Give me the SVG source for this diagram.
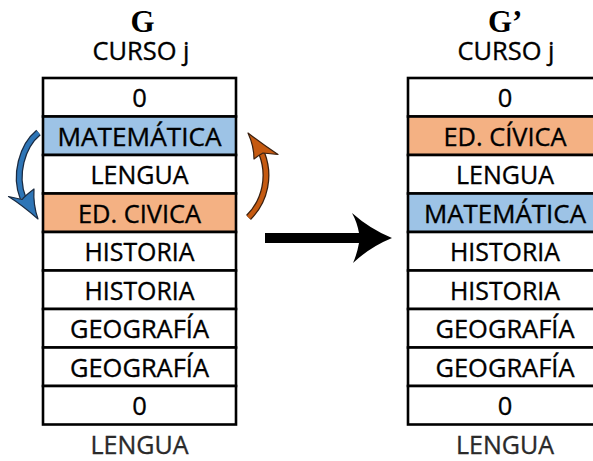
<svg xmlns="http://www.w3.org/2000/svg" width="593" height="461" viewBox="0 0 593 461">
<style>
.c{stroke:#000;stroke-width:2.6}
.w{fill:#fff}.b{fill:#9DC3E6}.o{fill:#F4B183}
.t{font-family:"Open Sans","Noto Sans","Liberation Sans",sans-serif;font-size:25.5px;text-anchor:middle;fill:#000;stroke:#000;stroke-width:0.35}
.ttl{font-family:"Liberation Serif","DejaVu Serif",serif;font-weight:bold;font-size:31px;fill:#000}
.fade{stroke:url(#fadeV);stroke-width:2.6}
</style>
<defs>
<linearGradient id="fadeV" x1="0" y1="0" x2="0" y2="1">
<stop offset="0" stop-color="#000"/>
<stop offset="0.45" stop-color="#222"/>
<stop offset="1" stop-color="#999"/>
</linearGradient>
</defs>
<rect width="593" height="461" fill="#fff"/>

<g id="titleG"><text class="ttl" x="142.5" y="32" text-anchor="middle">G</text></g>
<g id="cursoL"><text class="t" x="141" y="60" textLength="97" lengthAdjust="spacingAndGlyphs">CURSO j</text></g>
<g id="titleG2"><text class="ttl" x="488" y="32">G’</text></g>
<g id="cursoR"><text class="t" x="506" y="60" textLength="97" lengthAdjust="spacingAndGlyphs">CURSO j</text></g>

<!-- left table -->
<g id="L0"><rect class="c w" x="43" y="78" width="193" height="38.5"/><text class="t" x="139.5" y="107">0</text></g>
<g id="L1"><rect class="c b" x="43" y="116.5" width="193" height="38.5"/><text class="t" x="139.5" y="145.5" textLength="164" lengthAdjust="spacingAndGlyphs">MATEMÁTICA</text></g>
<g id="L2"><rect class="c w" x="43" y="155" width="193" height="38.5"/><text class="t" x="139.5" y="184" textLength="98" lengthAdjust="spacingAndGlyphs">LENGUA</text></g>
<g id="L3"><rect class="c o" x="43" y="193.5" width="193" height="38.5"/><text class="t" x="139.5" y="222.5" textLength="123" lengthAdjust="spacingAndGlyphs">ED. CIVICA</text></g>
<g id="L4"><rect class="c w" x="43" y="232" width="193" height="38.5"/><text class="t" x="139.5" y="261" textLength="110" lengthAdjust="spacingAndGlyphs">HISTORIA</text></g>
<g id="L5"><rect class="c w" x="43" y="270.5" width="193" height="38.5"/><text class="t" x="139.5" y="299.5" textLength="110" lengthAdjust="spacingAndGlyphs">HISTORIA</text></g>
<g id="L6"><rect class="c w" x="43" y="309" width="193" height="38.5"/><text class="t" x="139.5" y="338" textLength="139" lengthAdjust="spacingAndGlyphs">GEOGRAFÍA</text></g>
<g id="L7"><rect class="c w" x="43" y="347.5" width="193" height="38.5"/><text class="t" x="139.5" y="376.5" textLength="139" lengthAdjust="spacingAndGlyphs">GEOGRAFÍA</text></g>
<g id="L8"><rect class="c w" x="43" y="386" width="193" height="38.5"/><text class="t" x="139.5" y="415">0</text></g>
<g id="L9">
<line class="fade" x1="43" y1="424.5" x2="43" y2="461"/>
<line class="fade" x1="236" y1="424.5" x2="236" y2="461"/>
<text class="t" x="139.5" y="453.5" style="fill:#2a2a2a;stroke:#2a2a2a" textLength="98" lengthAdjust="spacingAndGlyphs">LENGUA</text></g>

<!-- right table -->
<g id="R0"><rect class="c w" x="408" y="78" width="194" height="38.5"/><text class="t" x="505" y="107">0</text></g>
<g id="R1"><rect class="c o" x="408" y="116.5" width="194" height="38.5"/><text class="t" x="505" y="145.5" textLength="123" lengthAdjust="spacingAndGlyphs">ED. CÍVICA</text></g>
<g id="R2"><rect class="c w" x="408" y="155" width="194" height="38.5"/><text class="t" x="505" y="184" textLength="98" lengthAdjust="spacingAndGlyphs">LENGUA</text></g>
<g id="R3"><rect class="c b" x="408" y="193.5" width="194" height="38.5"/><text class="t" x="505" y="222.5" textLength="162" lengthAdjust="spacingAndGlyphs">MATEMÁTICA</text></g>
<g id="R4"><rect class="c w" x="408" y="232" width="194" height="38.5"/><text class="t" x="505" y="261" textLength="110" lengthAdjust="spacingAndGlyphs">HISTORIA</text></g>
<g id="R5"><rect class="c w" x="408" y="270.5" width="194" height="38.5"/><text class="t" x="505" y="299.5" textLength="110" lengthAdjust="spacingAndGlyphs">HISTORIA</text></g>
<g id="R6"><rect class="c w" x="408" y="309" width="194" height="38.5"/><text class="t" x="505" y="338" textLength="139" lengthAdjust="spacingAndGlyphs">GEOGRAFÍA</text></g>
<g id="R7"><rect class="c w" x="408" y="347.5" width="194" height="38.5"/><text class="t" x="505" y="376.5" textLength="139" lengthAdjust="spacingAndGlyphs">GEOGRAFÍA</text></g>
<g id="R8"><rect class="c w" x="408" y="386" width="194" height="38.5"/><text class="t" x="505" y="415">0</text></g>
<g id="R9">
<line class="fade" x1="408" y1="424.5" x2="408" y2="461"/>
<text class="t" x="505" y="453.5" style="fill:#2a2a2a;stroke:#2a2a2a" textLength="98" lengthAdjust="spacingAndGlyphs">LENGUA</text></g>

<g id="connectors">
<!-- blue swap arrow -->
<path d="M38.5,132.5 C22,146 14,175 23,198" fill="none" stroke="#1a2a40" stroke-width="7" stroke-linecap="butt"/>
<path d="M38.5,132.5 C22,146 14,175 23,198" fill="none" stroke="#2E75B6" stroke-width="4.5"/>
<path d="M8.5,196.5 L22,199.5 Q26,195 34,189 Q33,205 38,219 Q22,205 8.5,196.5 Z" fill="#2E75B6" stroke="#1a2a40" stroke-width="1.2" stroke-linejoin="round"/>
<!-- orange swap arrow -->
<path d="M248.5,217.5 C266,200 270,175 262,154" fill="none" stroke="#3a2010" stroke-width="7"/>
<path d="M248.5,217.5 C266,200 270,175 262,154" fill="none" stroke="#C55A11" stroke-width="4.5"/>
<path d="M278,154.5 L263,153 Q259,155 254,159 Q254,146 248,133 Q262,144 278,154.5 Z" fill="#C55A11" stroke="#3a2010" stroke-width="1.2" stroke-linejoin="round"/>
<!-- main arrow -->
<path d="M265,233 H359 Q357,222 352,213 Q370,229 392,238 Q370,247 353,263 Q357,254 359,243 H265 Z" fill="#000"/>
</g>
</svg>
